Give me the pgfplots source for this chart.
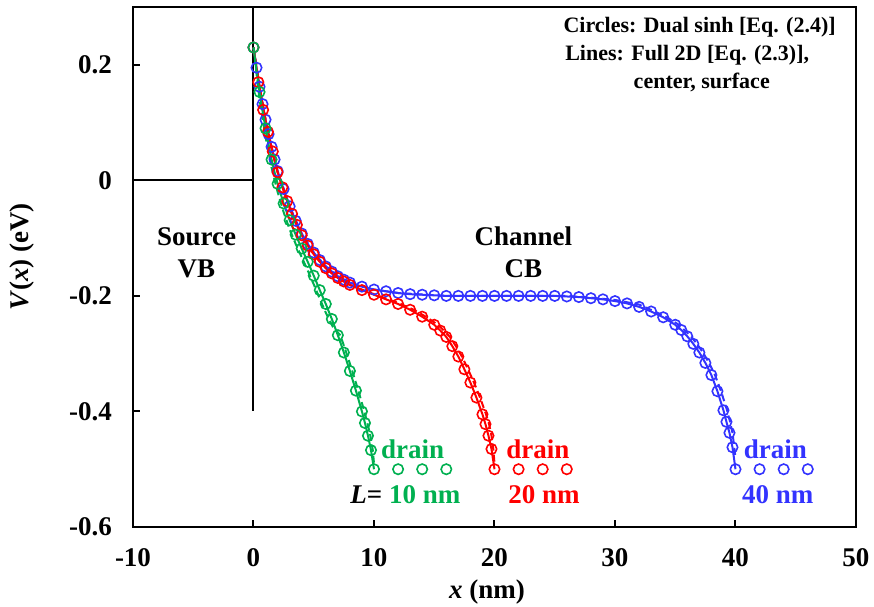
\documentclass[border=0pt]{standalone}
\usepackage{fontspec}
\setmainfont{Liberation Serif}
\usepackage{pgfplots}
\pgfplotsset{compat=1.18}
\definecolor{cgreen}{RGB}{0,176,80}
\definecolor{cred}{RGB}{255,0,0}
\definecolor{cblue}{RGB}{51,51,255}
\newcommand{\bigf}{\fontsize{13.5}{16}\selectfont\bfseries}
\newcommand{\smf}{\fontsize{11}{13}\selectfont\bfseries}
\begin{document}
\begin{tikzpicture}
\path[use as bounding box] (-66.5pt,-39.5pt) rectangle (370.5pt,263.5pt);
\begin{axis}[scale only axis, width=361.5pt, height=260pt, at={(0,0)}, anchor=south west,
 xmin=-10,xmax=50,ymin=-0.6,ymax=0.3,
 xtick={-10,0,10,20,30,40,50}, xticklabels={-10,0,10,20,30,40,50},
 ytick={-0.6,-0.4,-0.2,0,0.2}, yticklabels={-0.6,-0.4,-0.2,0,0.2},
 tick align=inside, xtick pos=bottom, ytick pos=left, major tick length=3.5pt,
 axis line style={line width=1pt}, every tick/.style={black, line width=1pt},
 tick label style={font=\bigf},
 yticklabel style={xshift=-7pt}, xticklabel style={yshift=-7pt},
 clip=false,
 circ/.style={only marks, mark=o, mark size=2.6pt, mark options={line width=0.8pt}},
 sol/.style={no marks, line width=1pt},
 das/.style={no marks, line width=1pt, dash pattern=on 3.5pt off 2pt},
]
% frame lines
\addplot[black, line width=1pt] coordinates {(0,0.3) (0,-0.4)};
\addplot[black, line width=1pt] coordinates {(-10,0) (0,0)};

% ---------- L = 40 nm (blue) ----------
\addplot[cblue, das] coordinates {(0,0.23) (0.5,0.162) (1,0.105) (1.5,0.058) (2,0.016) (3,-0.045) (4,-0.092) (5,-0.125) (6,-0.149) (7,-0.166) (8,-0.177) (10,-0.189) (12,-0.195) (16,-0.2) (26,-0.2) (28,-0.203) (30,-0.207) (32,-0.215) (33.3,-0.227) (34.3,-0.237) (35.3,-0.25) (36.3,-0.27) (36.8,-0.283) (37.3,-0.298) (37.8,-0.316) (38.3,-0.337) (38.8,-0.365) (39.3,-0.398) (39.55,-0.418) (39.75,-0.437) (39.9,-0.462) (40,-0.48)};
\addplot[cblue, sol] table {
0 0.23
0.25 0.195
0.5 0.162
0.75 0.132
1 0.105
1.25 0.08
1.5 0.058
1.75 0.036
2 0.016
2.5 -0.015
3 -0.045
3.5 -0.07
4 -0.092
4.5 -0.11
5 -0.125
5.5 -0.138
6 -0.149
6.5 -0.158
7 -0.166
7.5 -0.172
8 -0.177
9 -0.184
10 -0.189
11 -0.192
12 -0.195
13 -0.197
14 -0.198
15 -0.199
16 -0.2
20 -0.2
25 -0.2
26 -0.201
27 -0.202
28 -0.204
29 -0.206
30 -0.209
31 -0.213
32 -0.219
33 -0.227
34 -0.237
35 -0.25
35.5 -0.259
36 -0.27
36.5 -0.283
37 -0.298
37.5 -0.316
38 -0.337
38.5 -0.365
39 -0.398
39.25 -0.418
39.5 -0.437
39.75 -0.462
40 -0.5
};
\addplot[cblue, circ] table {
0 0.23
0.25 0.195
0.5 0.162
0.75 0.132
1 0.105
1.25 0.08
1.5 0.058
1.75 0.036
2 0.016
2.5 -0.015
3 -0.045
3.5 -0.07
4 -0.092
4.5 -0.11
5 -0.125
5.5 -0.138
6 -0.149
6.5 -0.158
7 -0.166
7.5 -0.172
8 -0.177
9 -0.184
10 -0.189
11 -0.192
12 -0.195
13 -0.197
14 -0.198
15 -0.199
16 -0.2
17 -0.2
18 -0.2
19 -0.2
20 -0.2
21 -0.2
22 -0.2
23 -0.2
24 -0.2
25 -0.2
26 -0.201
27 -0.202
28 -0.204
29 -0.206
30 -0.209
31 -0.213
32 -0.219
33 -0.227
34 -0.237
35 -0.25
35.5 -0.259
36 -0.27
36.5 -0.283
37 -0.298
37.5 -0.316
38 -0.337
38.5 -0.365
39 -0.398
39.25 -0.418
39.5 -0.437
39.75 -0.462
40 -0.5
42 -0.5
44 -0.5
46 -0.5
};

% ---------- L = 20 nm (red) ----------
\addplot[cred, das] coordinates {(0,0.23) (0.5,0.162) (1,0.104) (1.5,0.056) (2,0.014) (3,-0.048) (4,-0.095) (5,-0.128) (6,-0.152) (7,-0.169) (8,-0.181) (10,-0.197) (12,-0.212) (13.3,-0.224) (14.3,-0.236) (15.3,-0.25) (15.8,-0.26) (16.3,-0.271) (16.8,-0.287) (17.3,-0.305) (17.8,-0.327) (18.3,-0.35) (18.8,-0.376) (19.3,-0.405) (19.55,-0.422) (19.75,-0.442) (19.9,-0.465) (20,-0.49)};
\addplot[cred, sol] table {
0 0.23
0.25 0.195
0.5 0.162
0.75 0.132
1 0.104
1.25 0.079
1.5 0.056
1.75 0.034
2 0.014
2.5 -0.018
3 -0.048
3.5 -0.074
4 -0.095
4.5 -0.113
5 -0.128
5.5 -0.141
6 -0.152
6.5 -0.161
7 -0.169
7.5 -0.175
8 -0.181
9 -0.19
10 -0.198
11 -0.206
12 -0.214
13 -0.224
14 -0.236
15 -0.25
15.5 -0.26
16 -0.271
16.5 -0.287
17 -0.305
17.5 -0.327
18 -0.35
18.5 -0.376
19 -0.405
19.25 -0.422
19.5 -0.442
19.75 -0.465
20 -0.5
};
\addplot[cred, circ] table {
0 0.23
0.4 0.17
0.8 0.122
1.2 0.084
1.6 0.05
2 0.014
2.4 -0.012
2.8 -0.036
3.2 -0.058
3.6 -0.077
4 -0.095
4.5 -0.113
5 -0.128
5.5 -0.141
6 -0.152
6.5 -0.161
7 -0.169
7.5 -0.175
8 -0.181
9 -0.19
10 -0.198
11 -0.206
12 -0.214
13 -0.224
14 -0.236
15 -0.25
15.5 -0.26
16 -0.271
16.5 -0.287
17 -0.305
17.5 -0.327
18 -0.35
18.5 -0.376
19 -0.405
19.25 -0.422
19.5 -0.442
19.75 -0.465
20 -0.5
22 -0.5
24 -0.5
26 -0.5
};

% ---------- L = 10 nm (green) ----------
\addplot[cgreen, das] coordinates {(0,0.23) (0.5,0.14) (1,0.075) (1.5,0.022) (2,-0.02) (2.5,-0.055) (3,-0.085) (3.5,-0.11) (4,-0.133) (4.5,-0.156) (5,-0.18) (5.5,-0.205) (6,-0.229) (6.6,-0.254) (7.2,-0.268) (7.7,-0.298) (8.2,-0.33) (8.7,-0.364) (9.2,-0.4) (9.45,-0.42) (9.7,-0.442) (9.9,-0.467) (10,-0.49)};
\addplot[cgreen, sol] table {
0 0.23
0.25 0.19
0.5 0.153
0.75 0.12
1 0.09
1.25 0.062
1.5 0.036
1.75 0.014
2 -0.006
2.5 -0.04
3 -0.069
3.5 -0.094
4 -0.118
4.5 -0.141
5 -0.165
5.5 -0.19
6 -0.214
6.5 -0.24
7 -0.268
7.5 -0.298
8 -0.33
8.5 -0.364
9 -0.4
9.25 -0.42
9.5 -0.442
9.75 -0.467
10 -0.5
};
\addplot[cgreen, circ] table {
0 0.23
0.5 0.153
1 0.09
1.5 0.036
2 -0.006
2.5 -0.04
3 -0.069
3.5 -0.094
4 -0.118
4.5 -0.141
5 -0.165
5.5 -0.19
6 -0.214
6.5 -0.24
7 -0.268
7.5 -0.298
8 -0.33
8.5 -0.364
9 -0.4
9.25 -0.42
9.5 -0.442
9.75 -0.467
10 -0.5
12 -0.5
14 -0.5
16 -0.5
};

% ---------- labels ----------
\node[font=\bigf, text=cgreen] at (axis cs:13.2,-0.466) {drain};
\node[font=\bigf, text=cred] at (axis cs:23.6,-0.466) {drain};
\node[font=\bigf, text=cblue] at (axis cs:43.3,-0.466) {drain};
\node[font=\bigf] at (axis cs:12.6,-0.544) {\textit{L}= \textcolor{cgreen}{10 nm}};
\node[font=\bigf, text=cred] at (axis cs:24.1,-0.544) {20 nm};
\node[font=\bigf, text=cblue] at (axis cs:43.5,-0.544) {40 nm};
\node[font=\bigf, align=center] at (axis cs:-4.73,-0.125) {Source\\VB};
\node[font=\bigf, align=center] at (axis cs:22.4,-0.125) {Channel\\CB};
\node[font=\smf, anchor=east] at (axis cs:48.9,0.265) {Circles: Dual sinh [Eq. (2.4)]};
\node[font=\smf, anchor=east] at (axis cs:46.7,0.216) {Lines: Full 2D [Eq. (2.3)],};
\node[font=\smf] at (axis cs:37.2,0.170) {center, surface};
\end{axis}
\node[font=\bigf, rotate=90] at (-55.5pt,135pt) {\textit{V}(\textit{x}) (eV)};
\node[font=\bigf] at (177pt,-32.5pt) {\textit{x} (nm)};
\end{tikzpicture}
\end{document}
